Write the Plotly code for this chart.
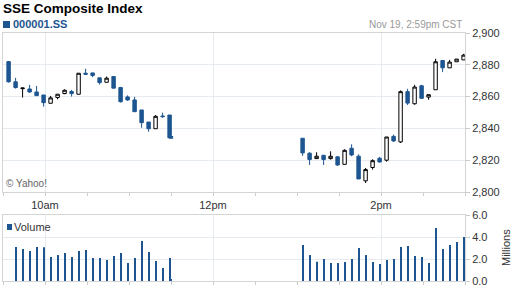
import plotly.graph_objects as go

DAY = "2013-11-19 "

# ---- data (5-minute bars) ----
am_times = ["09:34", "09:39", "09:44", "09:49", "09:54", "09:59", "10:04", "10:09",
            "10:14", "10:19", "10:24", "10:29", "10:34", "10:39", "10:44", "10:49",
            "10:54", "10:59", "11:04", "11:09", "11:14", "11:19", "11:24", "11:29"]
am_open = [2882.0, 2869.3, 2865.0, 2864.8, 2862.9, 2861.0, 2855.8, 2859.4, 2861.9, 2863.2,
           2861.5, 2874.7, 2874.9, 2871.8, 2869.0, 2872.6, 2865.7, 2859.8, 2857.9, 2851.6,
           2844.0, 2839.8, 2847.8, 2848.4]
am_high = [2882.0, 2871.8, 2865.4, 2867.4, 2866.7, 2861.0, 2860.4, 2861.5, 2864.6, 2864.2,
           2874.7, 2877.5, 2874.9, 2871.8, 2872.6, 2872.6, 2866.1, 2860.8, 2859.8, 2851.6,
           2844.0, 2848.4, 2849.9, 2848.4]
am_low = [2868.8, 2865.0, 2859.4, 2862.5, 2860.6, 2853.7, 2855.8, 2858.3, 2861.5, 2860.0,
          2861.5, 2873.7, 2872.2, 2867.6, 2869.0, 2865.3, 2856.2, 2857.3, 2850.5, 2840.4,
          2837.9, 2839.8, 2846.7, 2834.0]
am_close = [2869.3, 2865.7, 2865.4, 2862.9, 2860.6, 2856.2, 2859.2, 2861.5, 2864.0, 2861.9,
            2874.7, 2874.1, 2873.3, 2868.8, 2871.6, 2865.3, 2856.8, 2857.9, 2850.5, 2843.6,
            2839.8, 2847.6, 2847.4, 2834.1]
am_volume = [None, 3.09, 2.91, 2.73, 3.09, 3.06, 2.18, 2.36, 2.55, 2.18, 2.73, 2.82,
             2.09, 2.09, 1.91, 2.27, 2.55, 1.64, 2.09, 3.64, 2.64, 1.82, 1.18, 2.09]

# last morning tick (11:30)
noon_time = "11:30"
noon_open = 2835.2
noon_close = 2833.5
noon_volume = 0.18

pm_times = ["13:04", "13:09", "13:14", "13:19", "13:24", "13:29", "13:34", "13:39",
            "13:44", "13:49", "13:54", "13:59", "14:04", "14:09", "14:14", "14:19",
            "14:24", "14:29", "14:34", "14:39", "14:44", "14:49", "14:54", "14:59"]
pm_open = [2833.8, 2824.4, 2821.0, 2823.1, 2821.0, 2822.1, 2817.4, 2827.5, 2822.5, 2807.0,
           2815.4, 2821.2, 2820.0, 2835.0, 2831.5, 2863.1, 2855.5, 2866.8, 2859.7, 2864.3,
           2882.7, 2878.1, 2881.9, 2883.1]
pm_high = [2833.8, 2825.0, 2825.0, 2823.1, 2825.6, 2822.5, 2826.9, 2830.0, 2823.7, 2815.1,
           2820.6, 2822.1, 2834.6, 2836.1, 2863.9, 2864.9, 2867.4, 2867.4, 2861.2, 2883.8,
           2882.7, 2883.1, 2883.6, 2886.9]
pm_low = [2822.7, 2817.0, 2821.0, 2817.0, 2820.4, 2816.4, 2817.4, 2822.5, 2808.2, 2805.7,
          2814.1, 2818.5, 2819.1, 2831.5, 2830.8, 2854.7, 2854.9, 2858.9, 2858.0, 2864.3,
          2875.4, 2878.1, 2881.9, 2883.1]
pm_close = [2824.6, 2820.4, 2822.5, 2820.4, 2822.5, 2817.0, 2826.2, 2823.3, 2808.2, 2814.1,
            2819.7, 2818.9, 2834.6, 2832.1, 2863.1, 2855.9, 2866.0, 2858.9, 2861.2, 2881.9,
            2878.1, 2881.7, 2883.6, 2886.1]
pm_volume = [3.27, 2.36, 1.76, 2.00, 1.64, 1.64, 1.73, 2.00, 3.00, 2.36, 1.73, 1.55,
             1.91, 2.00, 3.09, 3.18, 2.27, 2.18, 1.64, 4.82, 2.91, 3.27, 3.55, 4.00]

price_ticks = [2800, 2820, 2840, 2860, 2880, 2900]
volume_ticks = [0, 2, 4, 6]
time_tickvals = ["10:00", "12:00", "14:00"]
time_ticktext = ["10am", "12pm", "2pm"]

# ---- styling ----
W, H = 512, 288
BLUE = "#1d5590"
GRID = "#e6ebf2"
BORDER = "#d4d4d4"
TICKC = "#cccccc"
FONT = "Liberation Sans, Arial, sans-serif"


def px_x(v):
    return v / W


def px_y(v):
    return 1 - v / H


candle_x = [DAY + t for t in am_times + pm_times]
fig = go.Figure()
fig.add_trace(go.Candlestick(
    x=candle_x,
    open=am_open + pm_open, high=am_high + pm_high,
    low=am_low + pm_low, close=am_close + pm_close,
    increasing=dict(line=dict(color="#000000", width=1), fillcolor="#ffffff"),
    decreasing=dict(line=dict(color=BLUE, width=1), fillcolor=BLUE),
    whiskerwidth=0, xaxis="x", yaxis="y", showlegend=False, hoverinfo="skip",
))
# final 11:30 tick drawn as a small body
fig.add_trace(go.Bar(
    x=[DAY + noon_time], y=[noon_close - noon_open], base=[noon_open],
    width=[180000], marker=dict(color=BLUE, line=dict(width=0)),
    xaxis="x", yaxis="y", showlegend=False, hoverinfo="skip",
))
vol_x = [DAY + t for t in am_times + [noon_time] + pm_times]
vol_y = am_volume + [noon_volume] + pm_volume
fig.add_trace(go.Bar(
    x=vol_x, y=vol_y, width=40000,
    marker=dict(color=BLUE, line=dict(width=0)),
    xaxis="x2", yaxis="y2", showlegend=False, hoverinfo="skip",
))

xcommon = dict(
    type="date",
    range=[DAY + "09:30", DAY + "15:00"],
    tickmode="array",
    tickvals=[DAY + t for t in time_tickvals],
    ticktext=time_ticktext,
    ticks="outside", ticklen=3, tickcolor=TICKC,
    showgrid=True, gridcolor=GRID, gridwidth=1,
    showline=True, mirror=True, linecolor=BORDER, linewidth=1,
    zeroline=False,
    minor=dict(tickmode="linear", tick0=DAY + "09:30", dtick=1800000,
               ticks="outside", ticklen=3, tickcolor=TICKC, showgrid=False),
    tickfont=dict(family=FONT, size=11, color="#333333"),
    fixedrange=True,
)

fig.update_layout(
    width=W, height=H, autosize=False,
    margin=dict(l=0, r=0, t=0, b=0, pad=0),
    paper_bgcolor="#ffffff", plot_bgcolor="#ffffff",
    template="none",
    showlegend=False,
    barmode="overlay",
    font=dict(family=FONT, size=11, color="#333333"),
    xaxis=dict(xcommon, domain=[px_x(3), px_x(465)], anchor="y",
               rangeslider=dict(visible=False)),
    xaxis2=dict(xcommon, domain=[px_x(3), px_x(465)], anchor="y2",
                matches="x", showticklabels=False),
    yaxis=dict(domain=[px_y(192), px_y(33)], range=[price_ticks[0], price_ticks[-1]],
               side="right", tickmode="array", tickvals=price_ticks, tickformat=",d",
               ticks="outside", ticklen=4, tickcolor=TICKC,
               showgrid=True, gridcolor=GRID, zeroline=False,
               showline=True, mirror=True, linecolor=BORDER,
               tickfont=dict(family=FONT, size=11, color="#333333"), fixedrange=True),
    yaxis2=dict(domain=[px_y(281), px_y(215)], range=[volume_ticks[0], volume_ticks[-1]],
                side="right", tickmode="array", tickvals=volume_ticks, tickformat=".1f",
                ticks="outside", ticklen=4, tickcolor=TICKC,
                showgrid=True, gridcolor=GRID, zeroline=False,
                showline=True, mirror=True, linecolor=BORDER,
                tickfont=dict(family=FONT, size=11, color="#333333"), fixedrange=True),
)

shapes = [
    dict(type="rect", xref="paper", yref="paper",
         x0=px_x(3), x1=px_x(10), y0=px_y(28), y1=px_y(21),
         fillcolor=BLUE, line=dict(width=0)),
    dict(type="rect", xref="paper", yref="paper",
         x0=px_x(7), x1=px_x(12), y0=px_y(230), y1=px_y(224),
         fillcolor=BLUE, line=dict(width=0)),
]
fig.update_layout(shapes=shapes)


def ann(text, x, y, size, color, xanchor="left", bold=False, angle=0):
    return dict(text=("<b>%s</b>" % text) if bold else text,
                xref="paper", yref="paper", x=px_x(x), y=px_y(y),
                xanchor=xanchor, yanchor="middle", showarrow=False,
                textangle=angle, borderpad=0,
                font=dict(family=FONT, size=size, color=color))


fig.update_layout(annotations=[
    ann("SSE Composite Index", 2, 8, 13.5, "#000000", bold=True),
    ann("000001.SS", 12, 24, 11, BLUE, bold=True),
    ann("Nov 19, 2:59pm CST", 463, 24, 10, "#999999", xanchor="right"),
    ann("© Yahoo!", 5, 183, 10, "#666666"),
    ann("Volume", 13, 227, 11, "#333333"),
    ann("Millions", 506, 248, 11, "#333333", xanchor="center", angle=-90),
])

fig.write_html("out.html")
